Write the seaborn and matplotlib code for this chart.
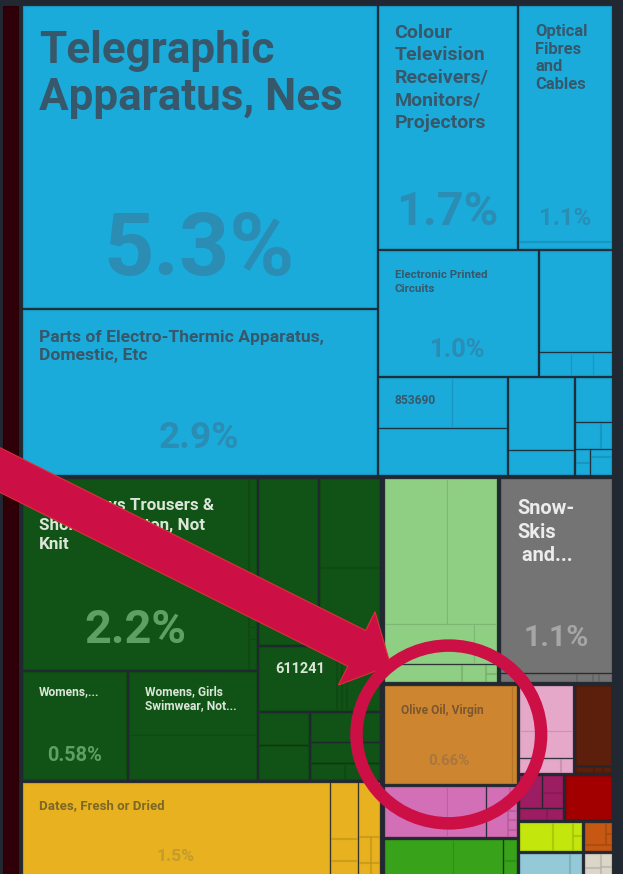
import matplotlib
matplotlib.use("Agg")
import matplotlib.pyplot as plt
import matplotlib.colors as mcolors
from matplotlib.patches import Rectangle, Ellipse, FancyArrow
import numpy as np
import seaborn as sns

# ---------------- data: share of exports (%) ----------------
machine_labels = ["Telegraphic\nApparatus, Nes",
                  "Parts of Electro-Thermic Apparatus,\nDomestic, Etc",
                  "Colour\nTelevision\nReceivers/\nMonitors/\nProjectors",
                  "Optical\nFibres\nand\nCables", "",
                  "Electronic Printed\nCircuits", "", "", "", "",
                  "853690", "", "", "", "", "", "", "", "", "", "", ""]
machine_values = [5.3, 2.9, 1.7, 1.1, 0.03, 1.0, 0.37, 0.035, 0.025, 0.02,
                  0.19, 0.14, 0.30, 0.24, 0.08, 0.08, 0.034, 0.014, 0.009, 0.009, 0.0066, 0.02]

textile_labels = ["Mens/Boys Trousers &\nShorts, of Cotton, Not\nKnit", "", "", "",
                  "Womens,...", "Womens, Girls\nSwimwear, Not...", "",
                  "", "", "", "", "611241", "", "", "", "", "", "", "", "", "", "", ""]
textile_values = [2.2, 0.06, 0.005, 0.012, 0.58, 0.42, 0.29, 0.43, 0.07, 0.28, 0.24,
                  0.26, 0.013, 0.013, 0.11, 0.083, 0.088, 0.069, 0.039, 0.072, 0.029, 0.019, 0.01]

vegetable_labels = ["Dates, Fresh or Dried", "", "", "", "", "", "", "", ""]
vegetable_values = [1.5, 0.078, 0.03, 0.028, 0.056, 0.015, 0.012, 0.01, 0.008]

hides_labels = ["", "", "", "", "", "", "", ""]
hides_values = [0.47, 0.37, 0.18, 0.046, 0.067, 0.02, 0.005, 0.004]

misc_labels = ["Snow-\nSkis\n and...", "", "", "", ""]
misc_values = [1.1, 0.03, 0.006, 0.002, 0.005]

oil_labels = ["Olive Oil, Virgin", ""]
oil_values = [0.66, 0.02]

chem_labels = ["", "", "", "", "", "", "", "", ""]
chem_values = [0.165, 0.10, 0.031, 0.004, 0.004, 0.029, 0.004, 0.004, 0.003]

veg2_labels = ["", "", "", ""]
veg2_values = [0.15, 0.107, 0.014, 0.013]

pink_values = [0.136, 0.081, 0.031, 0.009]
brown_values = [0.16, 0.006, 0.003, 0.003]
purple_values = [0.04, 0.019, 0.017, 0.017, 0.01]
red_values = [0.111]
lime_values = [0.049, 0.03, 0.006, 0.007]
orange_values = [0.025, 0.003, 0.003, 0.008]
lightblue_values = [0.074, 0.017]
beige_values = [0.012, 0.011, 0.008, 0.008]
maroon_values = [0.65]

# ---------------- styling ----------------
BG = "#212831"
sectors = {
    "machines": dict(values=machine_values, labels=machine_labels, color="#1aabdb", title="#37586b", pct="#2b8cb4"),
    "textiles": dict(values=textile_values, labels=textile_labels, color="#115316", title="#dbe6d9", pct="#5f9f62"),
    "vegetable": dict(values=vegetable_values, labels=vegetable_labels, color="#e8b11f", title="#7d6827", pct="#c39c2b"),
    "hides": dict(values=hides_values, labels=hides_labels, color="#8fcf83"),
    "misc": dict(values=misc_values, labels=misc_labels, color="#747474", title="#ececec", pct="#a6a6a6"),
    "oil": dict(values=oil_values, labels=oil_labels, color="#ce852f", title="#7b5631", pct="#a87641"),
    "chem": dict(values=chem_values, labels=chem_labels, color="#d36fb6"),
    "veg2": dict(values=veg2_values, labels=veg2_labels, color="#38a31a"),
    "pink": dict(values=pink_values, color="#e6a8c9"),
    "brown": dict(values=brown_values, color="#5b1f0b"),
    "purple": dict(values=purple_values, color="#9d1d62"),
    "red": dict(values=red_values, color="#a20000"),
    "lime": dict(values=lime_values, color="#c3e60c"),
    "orange": dict(values=orange_values, color="#c65813"),
    "lightblue": dict(values=lightblue_values, color="#94c9d8"),
    "beige": dict(values=beige_values, color="#dcd6c8"),
    "maroon": dict(values=maroon_values, color="#2f0007"),
}

# label style: (title px, first baseline offset, line step, pct px, pct baseline offset)
label_style = {
    ("machines", 0): (44, 57, 47, 88, 269),
    ("machines", 1): (17.5, 32, 18, 37, 138),
    ("machines", 2): (19.5, 32, 22.5, 47, 219),
    ("machines", 3): (16.5, 30, 17.7, 24, 219),
    ("machines", 5): (11.5, 27, 14, 25.5, 106),
    ("machines", 10): (12, 26, 0, None, None),
    ("textiles", 0): (17, 31, 19.5, 47, 164),
    ("textiles", 4): (12, 23, 14.5, 20, 89),
    ("textiles", 5): (12, 23, 14.5, None, None),
    ("textiles", 11): (14.5, 26, 0, None, None),
    ("vegetable", 0): (13.2, 26, 0, 17.5, 78),
    ("misc", 0): (20, 35, 23.5, 30, 167),
    ("oil", 0): (12, 28, 0, 15, 79),
}


def L(key, spec):
    """Turn an index spec of one sector into a tree of leaves."""
    if isinstance(spec, int):
        return ("leaf", key, spec)
    d, gap, kids = spec
    return ("node", d, gap, [L(key, k) for k in kids])


def N(d, gap, kids):
    return ("node", d, gap, kids)


machines = L("machines", ("h", 3, [
    ("v", 3, [0, 1]),
    ("v", 3, [
        ("h", 3, [2, ("v", 1, [3, 4])]),
        ("h", 3, [5, ("v", 2, [6, ("h", 0, [7, 8, 9])])]),
        ("h", 3, [("v", 2, [("h", 0, [10, 11]), 12]),
                  ("v", 2, [13, 14]),
                  ("v", 2, [15, ("h", 1, [16, 17]),
                            ("h", 2, [("v", 1, [18, 19]), ("v", 1, [20, 21])])])]),
    ]),
]))
textiles = L("textiles", ("h", 3, [
    ("v", 3, [("h", 1, [0, ("v", 0, [1, 2, 3])]), ("h", 3, [4, ("v", 0, [5, 6])])]),
    ("v", 3, [
        ("h", 3, [("v", 1, [7, 8]), ("v", 1, [9, 10])]),
        ("h", 1, [11, 12, 13, 14]),
        ("h", 3, [("v", 2, [15, 16]), ("v", 2, [("h", 1, [17, 18]), 19, ("h", 1, [20, 21, 22])])]),
    ]),
]))
vegetable = L("vegetable", ("h", 2, [0, ("h", 2, [("v", 1, [1, 2, 3]),
                                                  ("v", 1, [4, ("h", 1, [5, 6]), ("h", 1, [7, 8])])])]))
hides = L("hides", ("v", 2, [("v", 0, [("h", 0, [0, 1]), ("h", 0, [2, 3])]), ("h", 1, [4, 5, ("v", 1, [6, 7])])]))
misc = L("misc", ("v", 2, [0, ("h", 1, [1, 2, 3, 4])]))
oil = L("oil", ("h", 0, [0, 1]))
chem = L("chem", ("h", 2, [("h", 0, [0, 1]),
                           ("v", 1, [("h", 1, [2, ("v", 1, [3, 4])]), ("h", 1, [5, ("v", 1, [6, 7, 8])])])]))
veg2 = L("veg2", ("h", 2, [("h", 0, [0, 1]), ("v", 1, [2, 3])]))
pink = L("pink", ("v", 2, [("v", 0, [0, 1]), ("h", 1, [2, 3])]))
brown = L("brown", ("v", 2, [0, ("h", 1, [1, 2, 3])]))
purple = L("purple", ("v", 2, [("h", 2, [0, ("v", 1, [1, 2])]), ("h", 1, [3, 4])]))
red = L("red", 0)
lime = L("lime", ("h", 1, [0, 1, ("v", 1, [2, 3])]))
orange = L("orange", ("v", 1, [("h", 1, [0, ("v", 1, [1, 2])]), 3]))
lightblue = L("lightblue", ("h", 1, [0, 1]))
beige = L("beige", ("h", 1, [("v", 1, [0, 1]), ("v", 1, [2, 3])]))
maroon = L("maroon", 0)

tree = N("h", 5, [
    maroon,
    N("v", 5, [
        machines,
        N("h", 6, [
            N("v", 4, [textiles, vegetable]),
            N("v", 5, [
                N("h", 5, [hides, misc]),
                N("h", 4, [
                    N("v", 4, [oil, chem, veg2]),
                    N("v", 4, [N("h", 4, [pink, brown]), N("h", 4, [purple, red]),
                               N("h", 4, [lime, orange]), N("h", 4, [lightblue, beige])]),
                ]),
            ]),
        ]),
    ]),
])


def total(node):
    if node[0] == "leaf":
        return sectors[node[1]]["values"][node[2]]
    return sum(total(k) for k in node[3])


def layout(node, x, y, w, h, out):
    if node[0] == "leaf":
        out.append((node[1], node[2], x, y, w, h))
        return
    _, d, gap, kids = node
    vals = [total(k) for k in kids]
    s = sum(vals)
    n = len(kids)
    if d == "h":
        avail = w - gap * (n - 1)
        cx = x
        for k, v in zip(kids, vals):
            cw = avail * v / s
            layout(k, cx, y, cw, h, out)
            cx += cw + gap
    else:
        avail = h - gap * (n - 1)
        cy = y
        for k, v in zip(kids, vals):
            ch = avail * v / s
            layout(k, x, cy, w, ch, out)
            cy += ch + gap


def darker(c, f=0.12):
    r, g, b = mcolors.to_rgb(c)
    return (r * (1 - f), g * (1 - f), b * (1 - f))


sns.set_theme(style="dark", rc={"axes.facecolor": BG, "figure.facecolor": BG})
plt.rcParams["font.family"] = ["Roboto", "DejaVu Sans"]

W, H = 623, 874
fig = plt.figure(figsize=(W / 100, H / 100), dpi=100)
ax = fig.add_axes([0, 0, 1, 1])
ax.set_xlim(0, W)
ax.set_ylim(H, 0)
ax.axis("off")
PT = 0.72  # px -> pt at 100 dpi

rects = []
layout(tree, 2.5, 6, 608.5, 874, rects)

for key, idx, x, y, w, h in rects:
    col = sectors[key]["color"]
    ax.add_patch(Rectangle((x, y), w, h, facecolor=col, edgecolor=darker(col), lw=0.8, zorder=1))

olive_rect = None
for key, idx, x, y, w, h in rects:
    if key == "oil" and idx == 0:
        olive_rect = (x, y, w, h)
    st = label_style.get((key, idx))
    if st is None:
        continue
    sec = sectors[key]
    fs, b0, step, pfs, pb = st
    for i, line in enumerate(sec["labels"][idx].split("\n")):
        ax.text(x + 16, y + b0 + i * step, line, fontsize=fs * PT, fontweight="bold",
                color=sec["title"], ha="left", va="baseline", zorder=3)
    if pfs is not None:
        v = sec["values"][idx]
        txt = f"{v:.1f}%" if v >= 1 else f"{v:.2f}%"
        ax.text(x + w / 2, y + pb, txt, fontsize=pfs * PT, fontweight="bold",
                color=sec["pct"], ha="center", va="baseline", zorder=3)

# ---------------- annotation: arrow + circle around Olive Oil ----------------
RED = "#cc0f45"
ox, oy, ow, oh = olive_rect
cx, cy = ox + ow / 2, oy + oh / 2
rx, ry = ow * 0.725, oh * 0.92
t = np.deg2rad(231)
tip = np.array([cx + rx * np.cos(t), cy + ry * np.sin(t)])
direc = np.array([0.894, 0.447])
start = tip - direc * ((tip[0] + 25) / direc[0])
ax.add_patch(FancyArrow(start[0], start[1], tip[0] - start[0], tip[1] - start[1],
                        width=40, head_width=82, head_length=38, length_includes_head=True,
                        facecolor=RED, edgecolor="#e0303a", lw=0.8, zorder=5))
ax.add_patch(Ellipse((cx, cy), 2 * rx, 2 * ry, facecolor="none", edgecolor=RED,
                     lw=12.5 * PT, zorder=6))

fig.savefig("out.png", dpi=100, facecolor=BG)
